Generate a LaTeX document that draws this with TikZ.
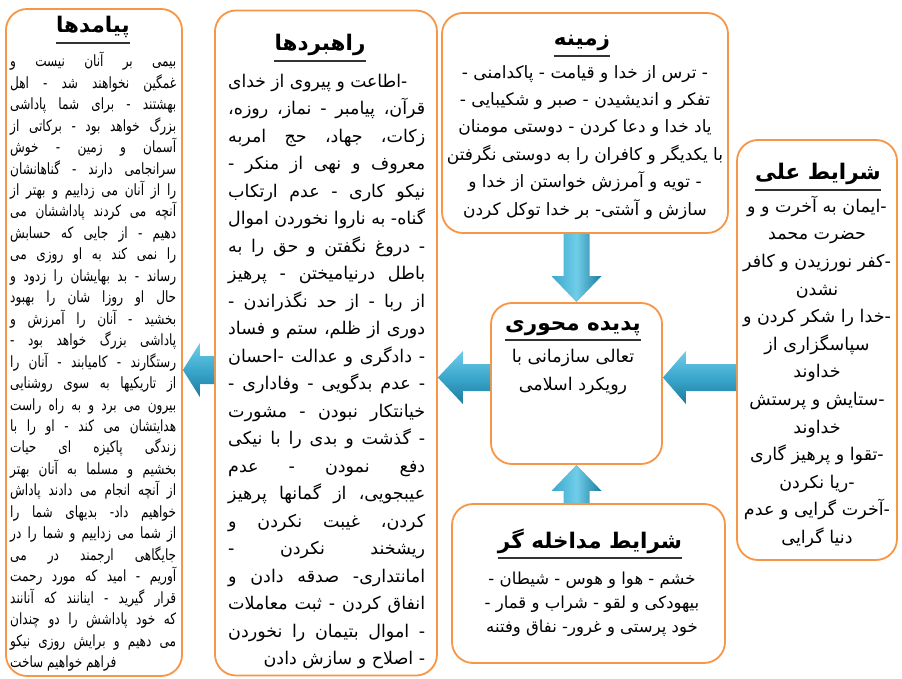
\documentclass[tikz,border=0pt]{standalone}
\usepackage{fontspec}
\usepackage{graphicx}
\usetikzlibrary{calc}
\TeXXeTstate=1
\newfontfamily\fa[Script=Arabic]{DejaVu Sans}
\newfontfamily\fac[Script=Arabic,FakeStretch=0.78]{DejaVu Sans}
\definecolor{boxorange}{HTML}{F79646}
\definecolor{arrlight}{HTML}{6FCDE8}
\definecolor{arrmid}{HTML}{3BA7CC}
\definecolor{arrdark}{HTML}{1D7A9E}
\newsavebox\lnbox
\newcommand\R[1]{\beginR#1\endR}
\newcommand\hy{\kern0pt-\kern0pt}
\newcommand\ac{\kern0pt،}
\newcommand\st{\vrule height1em depth.35em width0pt}
\newcommand\JL[2]{\sbox\lnbox{\R{#2}}\ifdim\wd\lnbox>#1\relax\hbox to #1{\st\resizebox{#1}{\height}{\usebox\lnbox}}\else\hbox to #1{\st\R{#2}}\fi}
\newcommand\RL[2]{\hbox to #1{\st\hfill\R{#2}}}
\newcommand\LL[2]{\hbox to #1{\st\R{#2}\hfill}}
\newcommand\CL[2]{\sbox\lnbox{\R{#2}}\ifdim\wd\lnbox>#1\relax\st\resizebox{#1}{\height}{\usebox\lnbox}\else\st\usebox\lnbox\fi}
\newcommand\barrow[6][harr]{%
  \coordinate (bh) at ($(#3)!#6pt!(#2)$);
  \path[#1] (#3) -- ($(bh)!#5pt!90:(#2)$) -- ($(bh)!#4pt!90:(#2)$) -- ($(#2)!#4pt!-90:(#3)$) -- ($(#2)!#4pt!90:(#3)$) -- ($(bh)!#4pt!-90:(#2)$) -- ($(bh)!#5pt!-90:(#2)$) -- cycle;}
\tikzset{
  box/.style={draw=boxorange, line width=1.8pt, rounded corners=21pt, fill=white, inner sep=0pt},
  ttl/.style={font=\fa\bfseries\fontsize{21.5}{25}\selectfont, anchor=base, inner sep=0pt},
  uline/.style={line width=1.3pt, black!80},
  body/.style={inner sep=0pt, anchor=north},
  harr/.style={top color=arrlight, bottom color=arrdark, middle color=arrmid},
  varr/.style={left color=arrmid, right color=arrdark, middle color=arrlight}
}
\begin{document}
\begin{tikzpicture}[x=1pt,y=-1pt]
\useasboundingbox (0,0) rectangle (902,679);
\fill[white] (0,0) rectangle (902,679);
% boxes
\node[box, minimum width=176pt, minimum height=667pt] (pay) at (94,342.5) {};
\node[box, minimum width=222pt, minimum height=665pt] (rah) at (326,343) {};
\node[box, minimum width=286pt, minimum height=220pt] (zam) at (585,123) {};
\node[box, minimum width=160pt, minimum height=420pt] (ali) at (817,350) {};
\node[box, minimum width=171pt, minimum height=161pt] (cen) at (576.5,383.5) {};
\node[box, minimum width=273pt, minimum height=159pt] (mod) at (588.5,583.5) {};
% titles
\node[ttl] (payT) at (93,33) {\R{پیامدها}};
\node[ttl] (rahT) at (320,51) {\R{راهبردها}};
\node[ttl] (zamT) at (582,46) {\R{زمینه}};
\node[ttl] (aliT) at (818,180) {\R{شرایط علی}};
\node[ttl] (modT) at (590,548) {\R{شرایط مداخله گر}};
\node[ttl] (cenT) at (573,330) {\R{پدیده محوری}};
\foreach \t in {payT,rahT,zamT,aliT,modT,cenT}
  \draw[uline] ($(\t.base west)+(0,10)$) -- ($(\t.base east)+(0,10)$);
% bodies
\node[body, anchor=north west, align=left, font=\fac\fontsize{15.5}{21.46}\selectfont] (payB) at (10,51) {%
\JL{166pt}{بیمی بر آنان نیست و}\\
\JL{166pt}{غمگین نخواهند شد - اهل}\\
\JL{166pt}{بهشتند - برای شما پاداشی}\\
\JL{166pt}{بزرگ خواهد بود - برکاتی از}\\
\JL{166pt}{آسمان و زمین - خوش}\\
\JL{166pt}{سرانجامی دارند - گناهانشان}\\
\JL{166pt}{را از آنان می زداییم و بهتر از}\\
\JL{166pt}{آنچه می کردند پاداششان می}\\
\JL{166pt}{دهیم - از جایی که حسابش}\\
\JL{166pt}{را نمی کند به او روزی می}\\
\JL{166pt}{رساند - بد بهایشان را زدود و}\\
\JL{166pt}{حال او روزا شان را بهبود}\\
\JL{166pt}{بخشید - آنان را آمرزش و}\\
\JL{166pt}{پاداشی بزرگ خواهد بود -}\\
\JL{166pt}{رستگارند - کامیابند - آنان را}\\
\JL{166pt}{از تاریکیها به سوی روشنایی}\\
\JL{166pt}{بیرون می برد و به راه راست}\\
\JL{166pt}{هدایتشان می کند - او را با}\\
\JL{166pt}{زندگی پاکیزه ای حیات}\\
\JL{166pt}{بخشیم و مسلما به آنان بهتر}\\
\JL{166pt}{از آنچه انجام می دادند پاداش}\\
\JL{166pt}{خواهیم داد\hy{} بدیهای شما را}\\
\JL{166pt}{از شما می زداییم و شما را در}\\
\JL{166pt}{جایگاهی ارجمند در می}\\
\JL{166pt}{آوریم - امید که مورد رحمت}\\
\JL{166pt}{قرار گیرید - اینانند که آنانند}\\
\JL{166pt}{که خود پاداشش را دو چندان}\\
\JL{166pt}{می دهیم و برایش روزی نیکو}\\
\LL{166pt}{فراهم خواهیم ساخت}};
\node[body, anchor=north west, align=left, font=\fa\fontsize{17.5}{27.5}\selectfont] (rahB) at (228,69.5) {%
\JL{179pt}{\hy اطاعت و پیروی از خدای}\\
\JL{197pt}{قرآن\ac{} پیامبر - نماز\ac{} روزه\ac}\\
\JL{197pt}{زکات\ac{} جهاد\ac{} حج امربه}\\
\JL{197pt}{معروف و نهی از منکر -}\\
\JL{197pt}{نیکو کاری - عدم ارتکاب}\\
\JL{197pt}{گناه\hy{} به ناروا نخوردن اموال}\\
\JL{197pt}{- دروغ نگفتن و حق را به}\\
\JL{197pt}{باطل درنیامیختن - پرهیز}\\
\JL{197pt}{از ربا - از حد نگذراندن -}\\
\JL{197pt}{دوری از ظلم\ac{} ستم و فساد}\\
\JL{197pt}{- دادگری و عدالت \hy احسان}\\
\JL{197pt}{- عدم بدگویی - وفاداری -}\\
\JL{197pt}{خیانتکار نبودن - مشورت}\\
\JL{197pt}{- گذشت و بدی را با نیکی}\\
\JL{197pt}{دفع نمودن - عدم}\\
\JL{197pt}{عیبجویی\ac{} از گمانها پرهیز}\\
\JL{197pt}{کردن\ac{} غیبت نکردن و}\\
\JL{197pt}{ریشخند نکردن -}\\
\JL{197pt}{امانتداری\hy{} صدقه دادن و}\\
\JL{197pt}{انفاق کردن - ثبت معاملات}\\
\JL{197pt}{- اموال بتیمان را نخوردن}\\
\RL{197pt}{- اصلاح و سازش دادن}};
\node[body, align=center, font=\fa\fontsize{17}{27.4}\selectfont] (zamB) at (585,61) {%
\CL{280pt}{- ترس از خدا و قیامت - پاکدامنی -}\\
\CL{280pt}{تفکر و اندیشیدن - صبر و شکیبایی -}\\
\CL{280pt}{یاد خدا و دعا کردن - دوستی مومنان}\\
\CL{280pt}{با یکدیگر و کافران را به دوستی نگرفتن}\\
\CL{280pt}{- تویه و آمرزش خواستن از خدا و}\\
\CL{280pt}{سازش و آشتی\hy{} بر خدا توکل کردن}};
\node[body, align=center, font=\fa\fontsize{17.5}{27.6}\selectfont] (aliB) at (817,194.5) {%
\CL{154pt}{\hy ایمان به آخرت و و}\\
\CL{154pt}{حضرت محمد}\\
\CL{154pt}{\hy کفر نورزیدن و کافر}\\
\CL{154pt}{نشدن}\\
\CL{154pt}{\hy خدا را شکر کردن و}\\
\CL{154pt}{سپاسگزاری از}\\
\CL{154pt}{خداوند}\\
\CL{154pt}{\hy ستایش و پرستش}\\
\CL{154pt}{خداوند}\\
\CL{154pt}{\hy تقوا و پرهیز گاری}\\
\CL{154pt}{\hy ریا نکردن}\\
\CL{154pt}{\hy آخرت گرایی و عدم}\\
\CL{154pt}{دنیا گرایی}};
\node[body, align=center, font=\fa\fontsize{16.5}{24}\selectfont] (modB) at (592,567.5) {%
\CL{266pt}{خشم - هوا و هوس - شیطان -}\\
\CL{266pt}{بیهودکی و لقو - شراب و قمار -}\\
\CL{266pt}{خود پرستی و غرور\hy{} نفاق وفتنه}};
\node[body, align=center, font=\fa\fontsize{17.5}{28}\selectfont] (cenB) at (573,344.5) {%
\CL{164pt}{تعالی سازمانی با}\\
\CL{164pt}{رویکرد اسلامی}};
% arrows
\coordinate (t1) at (zam.south -| cen.north);
\barrow[varr]{t1}{cen.north}{13}{25}{26}
\coordinate (t2) at (mod.north -| cen.south);
\barrow[varr]{t2}{cen.south}{13}{25}{26}
\coordinate (c3) at ([yshift=6pt]cen.east);
\coordinate (t3) at (c3 -| ali.west);
\barrow{t3}{c3}{13.5}{26.5}{23}
\coordinate (c4) at ([yshift=6pt]cen.west);
\coordinate (t4) at (c4 -| rah.east);
\barrow{c4}{t4}{13.5}{26.5}{25}
\coordinate (c5) at ([yshift=-27pt]rah.west);
\coordinate (t5) at (c5 -| pay.east);
\barrow{c5}{t5}{14}{27}{17}
\end{tikzpicture}
\end{document}
